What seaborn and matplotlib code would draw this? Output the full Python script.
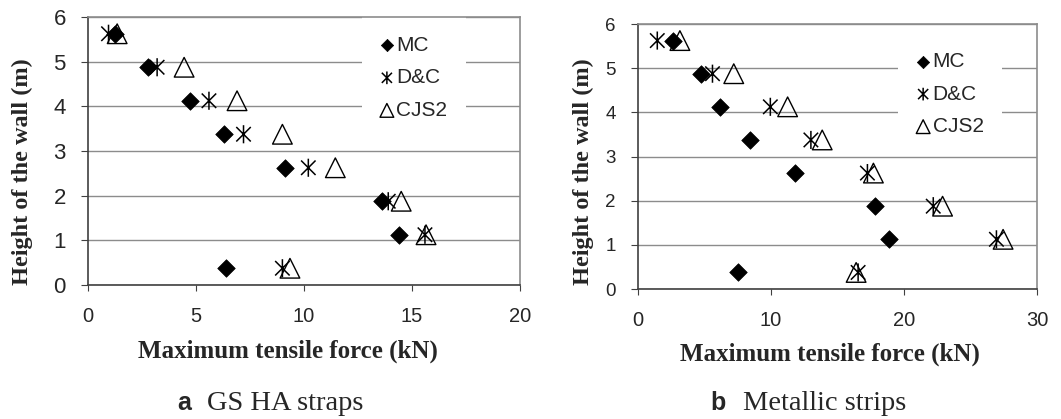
import matplotlib
matplotlib.use("Agg")
import matplotlib.pyplot as plt
import seaborn as sns
import pandas as pd
from matplotlib.path import Path

# ---------------- data ----------------
heights = [5.625, 4.875, 4.125, 3.375, 2.625, 1.875, 1.125, 0.375]
series_names = ["MC", "D&C", "CJS2"]

gs_mc = [1.25, 2.8, 4.7, 6.3, 9.1, 13.6, 14.4, 6.4]
gs_dc = [0.95, 3.2, 5.6, 7.2, 10.2, 13.9, 15.6, 9.0]
gs_cjs2 = [1.35, 4.45, 6.9, 9.0, 11.45, 14.5, 15.65, 9.35]

ms_mc = [2.6, 4.7, 6.2, 8.4, 11.8, 17.8, 18.85, 7.5]
ms_dc = [1.45, 5.6, 9.95, 13.0, 17.25, 22.2, 26.95, 16.55]
ms_cjs2 = [3.15, 7.2, 11.25, 13.85, 17.7, 22.9, 27.45, 16.4]

x_ticks_a = [0, 5, 10, 15, 20]
x_ticks_b = [0, 10, 20, 30]
y_ticks = [0, 1, 2, 3, 4, 5, 6]

x_label = "Maximum tensile force (kN)"
y_label = "Height of the wall (m)"
cap_a = ("a", "GS HA straps")
cap_b = ("b", "Metallic strips")

# ---------------- style ----------------
sns.set_style("white")
plt.rcParams["font.family"] = ["Liberation Sans", "DejaVu Sans"]

W, H = 1061, 419
fig = plt.figure(figsize=(W / 100, H / 100), dpi=100)


def px_box(x0, y0, x1, y1):
    return [x0 / W, 1 - y1 / H, (x1 - x0) / W, (y1 - y0) / H]


ax_a = fig.add_axes(px_box(88, 17, 520, 285))
ax_b = fig.add_axes(px_box(638, 24, 1037, 289))

star = Path(
    [(0, -1), (0, 1), (-0.8, -0.8), (0.8, 0.8), (-0.8, 0.8), (0.8, -0.8)],
    [Path.MOVETO, Path.LINETO, Path.MOVETO, Path.LINETO, Path.MOVETO, Path.LINETO],
)

marker_kw = {
    "MC": dict(marker="D", s=80, color="black", edgecolor="black", linewidth=0.5),
    "D&C": dict(marker=star, s=170, facecolor="none", edgecolor="black", linewidth=1.1),
    "CJS2": dict(marker="^", s=200, facecolor="none", edgecolor="black", linewidth=1.0),
}


def draw(ax, xs_list, xticks, xmax, ytick_size, leg_anchor):
    for name, xs in zip(series_names, xs_list):
        df = pd.DataFrame({"force": xs, "height": heights})
        sns.scatterplot(data=df, x="force", y="height", ax=ax, label=name,
                        zorder=3, **marker_kw[name])
    ax.set_xlim(0, xmax)
    ax.set_ylim(0, 6)
    ax.set_xticks(xticks)
    ax.set_yticks(y_ticks)
    ax.set_xticklabels([str(t) for t in xticks])
    ax.set_yticklabels([str(t) for t in y_ticks])
    ax.set_xlabel("")
    ax.set_ylabel("")
    ax.set_axisbelow(True)
    ax.grid(axis="y", color="#8c8c8c", linewidth=1.0)
    ax.grid(axis="x", visible=False)
    for side in ["top", "right"]:
        ax.spines[side].set_color("#8c8c8c")
        ax.spines[side].set_linewidth(1.2)
    for side in ["left", "bottom"]:
        ax.spines[side].set_color("#404040")
        ax.spines[side].set_linewidth(1.2)
    ax.tick_params(axis="x", direction="out", length=4, width=0.8, color="#404040",
                   pad=12, labelsize=14.5, bottom=True)
    ax.tick_params(axis="y", direction="out", length=5, width=0.8, color="#404040",
                   pad=11, labelsize=ytick_size, left=True)
    leg = ax.legend(loc="upper left", bbox_to_anchor=leg_anchor, frameon=True,
                    facecolor="white", edgecolor="none", framealpha=1,
                    fancybox=False, fontsize=15, markerscale=0.7,
                    handlelength=0.6, handletextpad=0.15, labelspacing=0.65,
                    borderpad=0.9, borderaxespad=0)
    leg.set_zorder(2)


draw(ax_a, [gs_mc, gs_dc, gs_cjs2], x_ticks_a, 20, 16, (0.634, 1.0))
draw(ax_b, [ms_mc, ms_dc, ms_cjs2], x_ticks_b, 30, 13.5, (0.652, 0.965))

serif_bold = dict(family=["Liberation Serif", "DejaVu Serif"], fontweight="bold")

# axis titles
fig.text(288 / W, 1 - 358 / H, x_label, ha="center", va="baseline", fontsize=18, **serif_bold)
fig.text(830 / W, 1 - 361 / H, x_label, ha="center", va="baseline", fontsize=18, **serif_bold)
fig.text(22 / W, 1 - 172 / H, y_label, ha="center", va="center", rotation=90, fontsize=17.5, **serif_bold)
fig.text(583 / W, 1 - 172 / H, y_label, ha="center", va="center", rotation=90, fontsize=17.5, **serif_bold)

# captions
fig.text(177 / W, 1 - 410 / H, cap_a[0], ha="left", va="baseline", fontsize=18,
         fontweight="bold", family=["Liberation Sans", "DejaVu Sans"])
fig.text(207 / W, 1 - 410 / H, cap_a[1], ha="left", va="baseline", fontsize=20.5,
         family=["Liberation Serif", "DejaVu Serif"])
fig.text(710 / W, 1 - 410 / H, cap_b[0], ha="left", va="baseline", fontsize=18,
         fontweight="bold", family=["Liberation Sans", "DejaVu Sans"])
fig.text(743 / W, 1 - 410 / H, cap_b[1], ha="left", va="baseline", fontsize=20.5,
         family=["Liberation Serif", "DejaVu Serif"])

fig.savefig("out.png", dpi=100)
